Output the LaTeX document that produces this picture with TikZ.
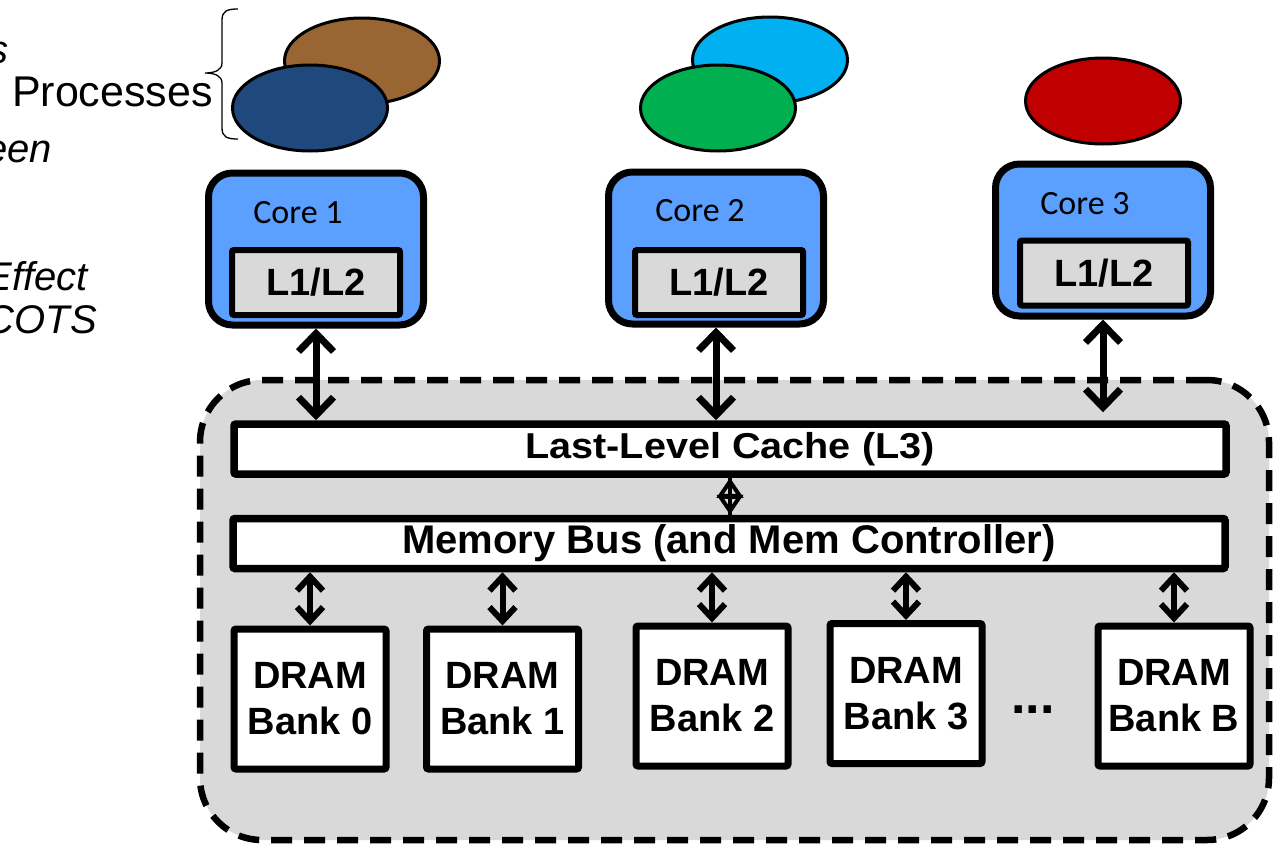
\documentclass[tikz,border=0pt]{standalone}
\usepackage{fontspec}
\setmainfont{Liberation Sans}
\newfontfamily\corefont{Carlito}
\usetikzlibrary{arrows.meta,shapes.geometric}

\definecolor{coreblue}{RGB}{91,160,255}
\definecolor{cachegray}{RGB}{217,217,217}
\definecolor{procbrown}{RGB}{153,102,51}
\definecolor{procnavy}{RGB}{31,73,125}
\definecolor{procsky}{RGB}{0,176,240}
\definecolor{procgreen}{RGB}{0,176,80}
\definecolor{procred}{RGB}{192,0,0}

\tikzset{
	corebox/.style={draw, line width=7pt, fill=coreblue, rounded corners=24pt, minimum width=215pt, minimum height=152pt, inner sep=0pt},
	cachebox/.style={draw, line width=6pt, fill=cachegray, rounded corners=2pt, minimum width=168pt, minimum height=65pt, inner sep=0pt, font=\fontsize{38}{44}\selectfont\bfseries},
	busbar/.style={draw, line width=7.5pt, fill=white, rounded corners=2pt, minimum width=992pt, minimum height=50pt, inner sep=0pt, font=\bfseries},
	bankbox/.style={draw, line width=7pt, fill=white, rounded corners=2pt, minimum width=152pt, minimum height=140pt, inner sep=0pt, align=center, font=\fontsize{38}{46}\selectfont\bfseries},
	memarea/.style={draw, line width=6.5pt, dash pattern=on 21pt off 12pt, fill=cachegray, rounded corners=62pt, minimum width=1069pt, minimum height=460pt, inner sep=0pt},
	proc/.style={draw, line width=3pt, ellipse, inner sep=0pt, minimum width=155pt, minimum height=86pt},
	corelbl/.style={font=\corefont\fontsize{34}{40}\selectfont, inner sep=0pt},
	sidetxt/.style={font=\fontsize{40}{48}\selectfont\itshape, anchor=base east, inner sep=0pt},
	bigarrow/.style={line width=7pt, {Straight Barb[length=18pt,width=35pt]}-{Straight Barb[length=18pt,width=35pt]}},
	bankarrow/.style={line width=6pt, {Straight Barb[length=14pt,width=26pt]}-{Straight Barb[length=14pt,width=26pt]}},
	diamarrow/.style={line width=4pt, {Triangle[open,length=20pt,width=26pt]}-{Triangle[open,length=20pt,width=26pt]}}
}

\begin{document}
\begin{tikzpicture}[x=1pt, y=-1pt]
			%%%%% START %%%%%
			\useasboundingbox (0,0) rectangle (1275,846);
			\clip (0,0) rectangle (1275,846);
			
			% left text, cut off at the border
			\node[sidetxt] (t1) at (9,63) {s};
			\node[sidetxt, font=\fontsize{43}{50}\selectfont] (t2) at (213,106) {Processes};
			\node[sidetxt] (t3) at (52,162) {een};
			\node[sidetxt] (t4) at (88,290) {Effect};
			\node[sidetxt] (t5) at (97,333) {COTS};
			\draw[line width=1.3pt] (238,9) .. controls (227,9) and (222,11) .. (222,20) -- (222,63)
				.. controls (222,70) and (215,73) .. (205,73) .. controls (215,73) and (222,76) .. (222,83)
				-- (222,128) .. controls (222,137) and (227,139) .. (238,139);
			
			% processes
			\node[proc, fill=procbrown] (p1b) at (362,61) {};
			\node[proc, fill=procnavy] (p1a) at (310,108) {};
			\node[proc, fill=procsky] (p2b) at (770,60) {};
			\node[proc, fill=procgreen] (p2a) at (718,108) {};
			\node[proc, fill=procred] (p3) at (1103,101) {};
			
			% shared memory part
			\node[memarea] (mem) at (734.5,610) {};
			
			% cores
			\node[corebox] (core1) at (316,249) {};
			\node[corebox] (core2) at (716,248) {};
			\node[corebox] (core3) at (1103,240) {};
			\node[corelbl] (c1lbl) at (298,213) {Core 1};
			\node[corelbl] (c2lbl) at (700,211) {Core 2};
			\node[corelbl] (c3lbl) at (1085,204) {Core 3};
			\node[cachebox] (l1a) at (316,282.5) {L1/L2};
			\node[cachebox] (l1b) at (719,282.5) {L1/L2};
			\node[cachebox] (l1c) at (1104,273) {L1/L2};
			
			% L3 and bus
			\node[busbar] (l3) at (730,449) {\fontsize{36}{40}\selectfont\scalebox{1.1}[1]{Last-Level Cache (L3)}};
			\node[busbar] (bus) at (729,543.5) {\fontsize{40}{44}\selectfont Memory Bus (and Mem Controller)};
			
			% banks
			\node[bankbox] (bank0) at (310,699) {DRAM\\Bank 0};
			\node[bankbox] (bank1) at (502.5,699) {DRAM\\Bank 1};
			\node[bankbox] (bank2) at (712,696) {DRAM\\Bank 2};
			\node[bankbox] (bank3) at (906,693.5) {DRAM\\Bank 3};
			\node[bankbox] (bankB) at (1174,696) {DRAM\\Bank B};
			\node[font=\fontsize{52}{56}\selectfont\bfseries, inner sep=0pt] (dots) at (1033,710) {...};
			
			% connections
			\draw[bigarrow] (core1.south) -- (core1.south |- l3.north);
			\draw[bigarrow] (core2.south) -- (core2.south |- l3.north);
			\draw[bigarrow, shorten >=8pt] (core3.south) -- (core3.south |- l3.north);
			\draw[line width=4pt] (l3.south) -- (l3.south |- bus.north);
			\draw[diamarrow] (l3.south) -- (l3.south |- bus.north);
			\foreach \b in {bank0,bank1,bank2,bank3,bankB}
				\draw[bankarrow] (\b.north |- bus.south) -- (\b.north);
			
			%%%%% END %%%%%
\end{tikzpicture}
\end{document}
